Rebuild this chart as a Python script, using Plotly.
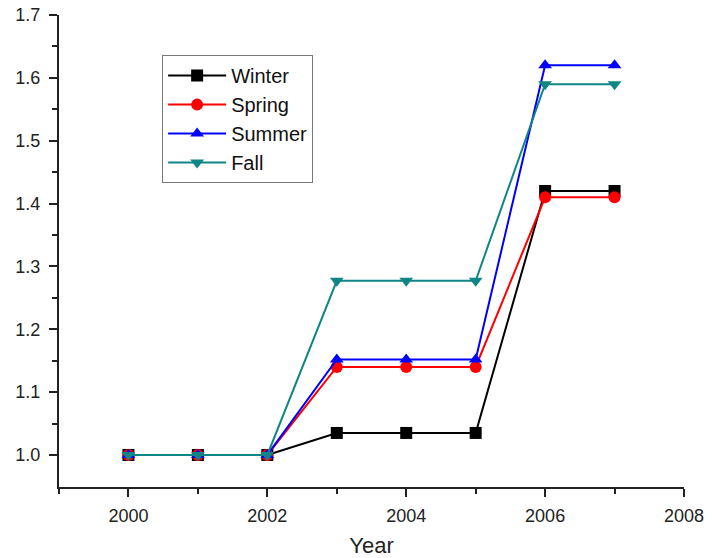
import plotly.graph_objects as go

years = [2000, 2001, 2002, 2003, 2004, 2005, 2006, 2007]
winter = [1.0, 1.0, 1.0, 1.035, 1.035, 1.035, 1.42, 1.42]
spring = [1.0, 1.0, 1.0, 1.14, 1.14, 1.14, 1.41, 1.41]
summer = [1.0, 1.0, 1.0, 1.152, 1.152, 1.152, 1.62, 1.62]
fall = [1.0, 1.0, 1.0, 1.277, 1.277, 1.277, 1.59, 1.59]

series = [
    ("Winter", winter, "#000000", "square"),
    ("Spring", spring, "#ff0000", "circle"),
    ("Summer", summer, "#0000ff", "triangle-up"),
    ("Fall", fall, "#108585", "triangle-down"),
]

fig = go.Figure()
for name, vals, color, sym in series:
    fig.add_trace(go.Scatter(
        x=years, y=vals, name=name, mode="lines+markers",
        line=dict(color=color, width=2),
        marker=dict(symbol=sym, size=12, color=color),
    ))

font_family = "Liberation Sans, Arial, sans-serif"
axis_color = "#222222"
fig.update_layout(
    width=721, height=558,
    margin=dict(l=59, r=37, t=15, b=71, autoexpand=False),
    paper_bgcolor="white", plot_bgcolor="white",
    font=dict(family=font_family, color="#222222", size=18),
    showlegend=True,
    legend=dict(
        x=0.165, y=0.915, xanchor="left", yanchor="top",
        bordercolor="#777777", borderwidth=1, bgcolor="white",
        font=dict(size=20, color="#111111"),
        tracegroupgap=0, itemwidth=58,
    ),
    xaxis=dict(
        range=[1999, 2008], tickvals=[2000, 2002, 2004, 2006, 2008],
        ticks="outside", ticklen=8, tickwidth=2, tickcolor=axis_color,
        minor=dict(tickvals=[1999, 2001, 2003, 2005, 2007], ticks="outside",
                   ticklen=5, tickwidth=2, tickcolor=axis_color),
        showline=True, linecolor=axis_color, linewidth=2,
        showgrid=False, zeroline=False, automargin=False,
        ticklabelstandoff=3,
        title=dict(text="Year", font=dict(size=22), standoff=13),
        tickfont=dict(size=18),
    ),
    yaxis=dict(
        range=[0.949, 1.7], tickvals=[1.0, 1.1, 1.2, 1.3, 1.4, 1.5, 1.6, 1.7],
        tickformat=".1f",
        ticks="outside", ticklen=8, tickwidth=2, tickcolor=axis_color,
        minor=dict(tickvals=[1.05, 1.15, 1.25, 1.35, 1.45, 1.55, 1.65], ticks="outside",
                   ticklen=5, tickwidth=2, tickcolor=axis_color),
        showline=True, linecolor=axis_color, linewidth=2,
        showgrid=False, zeroline=False, automargin=False,
        ticklabelstandoff=5,
        tickfont=dict(size=18),
    ),
)

fig.write_html("out.html", config={"displayModeBar": False},
               post_script="document.body.style.margin='0';")
